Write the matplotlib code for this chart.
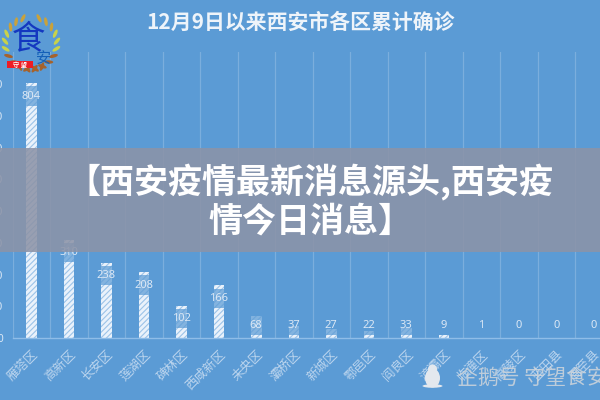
import numpy as np
import matplotlib
matplotlib.use("Agg")
import matplotlib.pyplot as plt
from matplotlib.patches import Rectangle, Ellipse

FONT = ['Noto Sans CJK SC', 'DejaVu Sans']
plt.rcParams['font.family'] = FONT
plt.rcParams['hatch.linewidth'] = 0.8

districts = ['雁塔区', '高新区', '长安区', '莲湖区', '碑林区', '西咸新区', '未央区', '灞桥区',
             '新城区', '鄠邑区', '阎良区', '浐灞区', '临潼区', '高陵区', '蓝田县', '周至县']
cases = [804, 310, 238, 208, 102, 166, 68, 37, 27, 22, 33, 9, 1, 0, 0, 0]
yticks = [0, 100, 200, 300, 400, 500, 600, 700, 800]

title = '12月9日以来西安市各区累计确诊'
banner = '【西安疫情最新消息源头,西安疫\n情今日消息】'
watermark = '企鹅号 守望食安'

BG = '#5B9BD5'
LIGHT = '#DCE8F5'

fig = plt.figure(figsize=(6, 4), dpi=100, facecolor=BG)
ax = fig.add_axes([12.5 / 600, 62 / 400, 600 / 600, 286 / 400], facecolor=BG)

x = np.arange(len(cases))
ax.bar(x, cases, width=0.28, facecolor='#EAF2FB', edgecolor='#9CC3E8',
       hatch='//////', linewidth=0, zorder=2)
ax.set_xlim(-0.5, len(cases) - 0.5)
ax.set_ylim(0, 902)

label_offset = 41
for xi, v in zip(x, cases):
    ax.text(xi, max(v - label_offset, label_offset), str(v), ha='center', va='center',
            fontsize=8, color=LIGHT, family=['Noto Sans'], zorder=4,
            bbox=dict(boxstyle='square,pad=0.38', facecolor=BG, edgecolor='none', alpha=0.72))

for b in np.arange(-0.5, len(cases), 1):
    ax.axvline(b, color='white', alpha=0.2, lw=0.9, zorder=1)

for s in ['top', 'right', 'left']:
    ax.spines[s].set_visible(False)
ax.spines['bottom'].set_color('#8FBDE8')
ax.spines['bottom'].set_linewidth(1.0)

ax.set_yticks(yticks)
ax.set_yticklabels([str(t) for t in yticks], fontsize=7.5, color=LIGHT)
ax.tick_params(axis='y', length=0, pad=7)
ax.set_xticks(x)
ax.set_xticklabels(districts, rotation=45, ha='right', rotation_mode='anchor',
                   fontsize=9, color='#BCD5EE')
ax.tick_params(axis='x', length=0, pad=7)

# overlay in pixel coordinates
ov = fig.add_axes([0, 0, 1, 1], facecolor='none', zorder=10)
ov.set_xlim(0, 600)
ov.set_ylim(400, 0)
ov.axis('off')

ov.text(300, 22, title, ha='center', va='center', fontsize=15, fontweight='bold', color='#EEF4FA')

ov.add_patch(Rectangle((0, 148), 600, 104, facecolor='#8C93A7', edgecolor='none', alpha=0.87))
ov.text(310, 201, banner, ha='center', va='center', fontsize=24.5, fontweight='black',
        color='white', linespacing=1.08)

# logo: laurel wreath
cx, cy, r = 31, 43, 26
for a in np.arange(-115, 80, 17):
    t = np.radians(a)
    col = '#C9A23C' if a > 25 else ('#C8D24A' if a > -20 else '#A5622C')
    for sgn in (-1, 1):
        px = cx + sgn * r * np.cos(t)
        py = cy - r * np.sin(t)
        ov.add_patch(Ellipse((px, py), 9, 3.4, angle=sgn * (a + 45) * -1, facecolor=col, edgecolor='none'))
ov.text(28, 40, '食', ha='center', va='center', fontsize=24, color='#1438C0', style='italic')
ov.text(44, 58, '安', ha='center', va='center', fontsize=11, color='#1460B8')
ov.add_patch(Rectangle((7, 61), 26, 7, facecolor='#EE1C25', edgecolor='none'))
ov.text(20, 64.5, '守 望', ha='center', va='center', fontsize=4.5, color='white', fontweight='bold')

# watermark
ov.add_patch(Ellipse((432.5, 378), 15, 19, facecolor='#E3E8EE', edgecolor='none'))
ov.add_patch(Ellipse((432.5, 369), 9, 9, facecolor='#E3E8EE', edgecolor='none'))
ov.add_patch(Ellipse((432.5, 386), 20, 3.5, facecolor='#E3E8EE', edgecolor='none'))
ov.text(457, 378, watermark, ha='left', va='center', fontsize=15, color='#CFD5DB', alpha=0.85)

fig.savefig('out.png', dpi=100, facecolor=BG)
